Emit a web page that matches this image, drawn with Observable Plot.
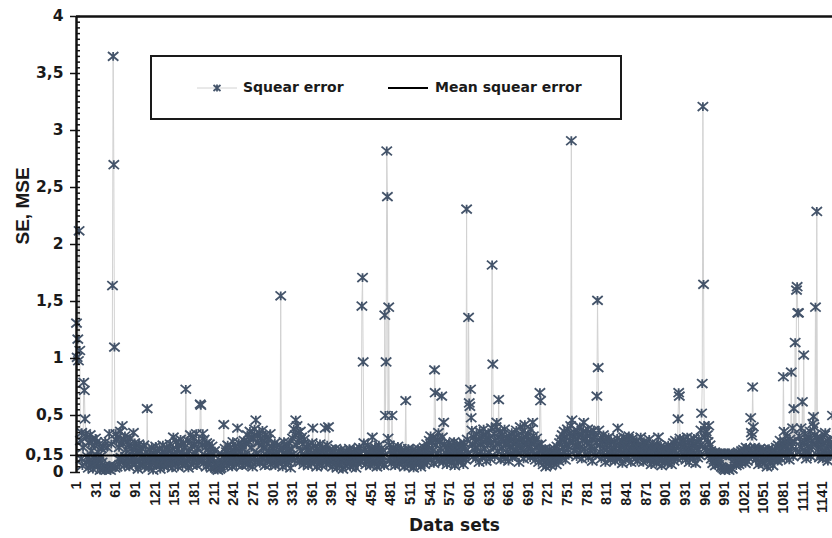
<!DOCTYPE html>
<html><head><meta charset="utf-8">
<script src="https://cdn.jsdelivr.net/npm/d3@7"></script>
<script src="https://cdn.jsdelivr.net/npm/@observablehq/plot@0.6"></script>
<style>
body{margin:0;background:#fff;}
#wrap{position:relative;width:832px;height:538px;overflow:hidden;background:#fff;}
#legend{position:absolute;left:150px;top:55px;width:468px;height:61px;border:2px solid #1a1a1a;background:#fff;font:bold 14px "DejaVu Sans";color:#1a1a1a;}
#legend span{position:absolute;top:22px;white-space:nowrap;}
</style></head><body><div id="wrap"></div>
<script>
// Squared error per data set (index 1..1156)
const se1=[1.31,1.01,1.17,.98,2.12,1.07,.28,.12,.35,.06,
.22,.79,.72,.47,.34,.09,.31,.14,.04,.26,
.11,.33,.07,.19,.29,.03,.13,.24,.08,.30,
.12,.27,.05,.18,.10,.25,.02,.14,.21,.09,
.04,.23,.03,.06,.27,.02,.05,.22,.04,.03,
.34,.06,.02,.25,.05,1.64,3.65,2.70,1.10,.04,
.34,.28,.05,.31,.12,.22,.07,.36,.13,.26,
.41,.10,.29,.06,.32,.14,.20,.08,.27,.11,
.24,.05,.30,.13,.21,.09,.18,.35,.12,.26,
.07,.22,.11,.17,.03,.25,.10,.19,.06,.14];
const se2=[.21,.08,.13,.24,.05,.11,.18,.09,.56,.12,
.04,.20,.10,.15,.07,.22,.13,.02,.17,.09,
.12,.23,.06,.14,.19,.08,.11,.21,.03,.13,
.16,.07,.24,.10,.05,.18,.12,.09,.22,.14,
.06,.19,.11,.25,.08,.13,.04,.21,.31,.10,
.15,.07,.27,.12,.20,.05,.24,.09,.14,.29,
.11,.18,.06,.26,.13,.22,.08,.73,.16,.10,
.28,.04,.19,.12,.33,.07,.23,.14,.30,.09,
.25,.11,.17,.34,.06,.21,.13,.27,.10,.60,
.59,.12,.24,.34,.08,.29,.15,.22,.05,.26];
const se3=[.13,.20,.07,.25,.11,.18,.04,.23,.12,.16,
.09,.19,.04,.07,.03,.06,.02,.05,.08,.03,
.06,.04,.16,.07,.14,.42,.09,.21,.12,.18,
.06,.24,.11,.15,.08,.22,.13,.19,.05,.27,
.10,.17,.14,.23,.07,.20,.39,.12,.26,.09,
.18,.13,.24,.06,.21,.11,.28,.15,.08,.25,
.12,.33,.07,.27,.14,.36,.10,.22,.31,.05,
.29,.13,.38,.09,.46,.17,.32,.11,.26,.35,
.08,.30,.14,.24,.37,.12,.21,.28,.06,.33,
.15,.25,.10,.29,.19,.13,.34,.07,.23,.16];
const se4=[.09,.21,.14,.26,.06,.18,.11,.24,.13,.08,
.20,.12,1.55,.10,.22,.05,.17,.27,.11,.15,
.07,.23,.13,.19,.09,.26,.14,.04,.21,.12,
.30,.16,.38,.11,.33,.46,.24,.41,.13,.35,
.28,.09,.36,.19,.31,.12,.25,.07,.29,.15,
.10,.22,.14,.18,.06,.24,.11,.20,.13,.08,
.26,.39,.12,.17,.09,.23,.14,.05,.21,.11,
.16,.08,.25,.13,.19,.06,.22,.10,.15,.12,
.39,.18,.07,.24,.11,.40,.14,.20,.09,.17,
.13,.05,.19,.10,.16,.08,.21,.12,.04,.15];
const se5=[.11,.18,.07,.14,.20,.09,.13,.03,.17,.10,
.15,.06,.19,.12,.08,.16,.11,.21,.05,.13,
.18,.09,.14,.07,.20,.12,.16,.04,.11,.19,
.08,.15,.22,.10,.17,.13,1.46,1.71,.97,.26,
.12,.20,.07,.16,.11,.24,.09,.18,.14,.06,
.21,.13,.31,.10,.17,.08,.22,.12,.15,.05,
.19,.11,.24,.07,.16,.13,.21,.09,.18,.14,
.06,1.38,.50,.97,2.82,2.42,.30,1.45,.24,.12,
.19,.08,.50,.15,.22,.11,.17,.06,.20,.13,
.10,.23,.14,.07,.18,.12,.21,.09,.16,.11];
const se6=[.14,.05,.19,.63,.12,.17,.08,.21,.11,.15,
.06,.18,.13,.09,.20,.04,.16,.12,.19,.07,
.14,.11,.21,.08,.17,.13,.05,.19,.10,.15,
.12,.22,.07,.18,.14,.25,.09,.20,.13,.28,
.16,.32,.11,.26,.19,.30,.08,.90,.70,.24,
.13,.29,.17,.35,.10,.27,.21,.14,.67,.31,
.09,.44,.25,.12,.22,.17,.07,.20,.14,.26,
.11,.18,.23,.08,.15,.21,.13,.27,.06,.19,
.12,.24,.16,.09,.20,.14,.25,.10,.18,.22,
.13,.07,.26,.15,.21,.11,2.31,.29,.17,1.36];
const se7=[.61,.58,.73,.48,.37,.24,.14,.31,.20,.27,
.12,.34,.22,.16,.29,.09,.36,.25,.18,.32,
.13,.27,.38,.21,.15,.33,.10,.28,.24,.35,
.17,.30,.12,.26,.39,1.82,.95,.22,.34,.14,
.28,.40,.44,.19,.31,.64,.25,.36,.11,.29,
.21,.33,.15,.27,.38,.12,.24,.30,.18,.26,
.10,.32,.22,.16,.29,.35,.13,.25,.20,.31,
.14,.27,.37,.19,.23,.33,.09,.28,.40,.17,
.30,.22,.36,.12,.26,.42,.18,.31,.24,.15,
.34,.21,.28,.13,.38,.25,.19,.44,.32,.16];
const se8=[.27,.11,.22,.30,.15,.24,.09,.19,.70,.63,
.25,.13,.20,.07,.17,.12,.21,.05,.16,.10,
.19,.08,.14,.20,.11,.06,.18,.13,.15,.09,
.21,.12,.17,.07,.23,.14,.19,.10,.26,.16,
.29,.13,.33,.22,.18,.36,.27,.11,.31,.24,
.38,.20,.15,.34,.28,.41,2.91,.46,.26,.32,
.19,.35,.23,.29,.14,.37,.25,.31,.17,.40,
.22,.33,.12,.28,.36,.44,.21,.30,.16,.34,
.27,.38,.13,.25,.32,.19,.35,.23,.10,.29,
.37,.20,.31,.15,.26,.67,1.51,.92,.37,.24];
const se9=[.18,.30,.12,.27,.21,.33,.15,.25,.09,.29,
.20,.26,.14,.31,.17,.24,.11,.28,.19,.13,
.22,.16,.27,.10,.24,.18,.30,.39,.14,.21,
.12,.25,.17,.28,.08,.22,.31,.15,.26,.11,
.19,.29,.13,.24,.32,.16,.21,.09,.27,.18,
.30,.14,.23,.26,.12,.19,.28,.10,.22,.25,
.15,.20,.31,.13,.24,.17,.09,.27,.21,.14,
.26,.18,.11,.23,.16,.29,.12,.20,.07,.22,
.15,.24,.10,.19,.13,.21,.08,.25,.17,.31,
.12,.20,.14,.23,.06,.18,.11,.22,.16,.09];
const se10=[.21,.13,.19,.08,.24,.15,.11,.20,.17,.07,
.22,.14,.26,.10,.19,.28,.16,.23,.12,.47,
.70,.67,.30,.25,.18,.27,.13,.22,.29,.15,
.24,.11,.20,.31,.17,.26,.09,.21,.14,.28,
.19,.23,.12,.30,.16,.25,.08,.22,.27,.13,
.20,.29,.15,.24,.37,.52,.78,3.21,1.65,.41,
.31,.22,.36,.18,.33,.27,.41,.15,.24,.19,
.12,.17,.08,.16,.11,.18,.06,.14,.10,.17,
.13,.07,.16,.11,.17,.05,.15,.04,.16,.03,
.17,.02,.15,.04,.16,.03,.17,.02,.15,.16];
const se11=[.04,.17,.03,.15,.16,.08,.12,.15,.06,.14,
.10,.18,.07,.13,.16,.09,.19,.11,.14,.20,
.12,.17,.08,.22,.15,.10,.19,.13,.21,.16,
.48,.35,.32,.75,.40,.14,.22,.18,.11,.20,
.13,.19,.07,.17,.21,.10,.15,.18,.09,.20,
.14,.08,.19,.12,.16,.05,.18,.11,.21,.13,
.09,.17,.14,.20,.06,.15,.11,.19,.13,.22,
.16,.10,.24,.14,.19,.28,.12,.21,.17,.26,
.84,.36,.15,.27,.22,.13,.32,.19,.25,.11,
.29,.18,.88,.23,.39,.14,.56,.27,1.14,.20];
const se12=[1.60,1.63,1.40,1.40,.32,.18,.27,.39,.22,.62,
.15,1.03,.26,.34,.19,.12,.29,.23,.16,.31,
.21,.36,.14,.28,.25,.43,.49,.40,.33,1.45,
.24,2.29,.31,.18,.27,.13,.22,.30,.16,.25,
.12,.26,.19,.33,.35,.15,.21,.28,.10,.23,
.17,.29,.14,.24,.20,.50];

const mse = 0.15;                       // mean squared error
const seriesNames = ["Squear error", "Mean squear error"];
const yTicks = [0, 0.15, 0.5, 1, 1.5, 2, 2.5, 3, 3.5, 4];
const xTicks = [1,31,61,91,121,151,181,211,241,271,301,331,361,391,421,451,481,511,541,571,601,631,661,691,721,751,781,811,841,871,901,931,961,991,1021,1051,1081,1111,1141];
const xLabel = "Data sets", yLabel = "SE, MSE";

const seAll = [].concat(se1,se2,se3,se4,se5,se6,se7,se8,se9,se10,se11,se12);
const data = seAll.map((v, k) => ({set: k + 1, se: v}));
const minorTicks = d3.range(0, 81).map(k => +(k * 0.05).toFixed(2));
const comma = d => String(d).replace(".", ",");

const star = {
  draw(ctx) {
    const rx = 5.2, ry = 4.4;
    ctx.moveTo(-rx, -ry); ctx.lineTo(rx, ry);
    ctx.moveTo(-rx, ry); ctx.lineTo(rx, -ry);
    ctx.moveTo(0, -ry); ctx.lineTo(0, ry);
  }
};

const chart = Plot.plot({
  width: 832, height: 538,
  marginLeft: 76, marginRight: 0, marginTop: 16, marginBottom: 66,
  x: {domain: [1, 1156]},
  y: {domain: [0, 4]},
  style: {background: "#fff", overflow: "visible"},
  marks: [
    Plot.line(data, {x: "set", y: "se", stroke: "#d2d2d2", strokeWidth: 1}),
    Plot.dot(data, {x: "set", y: "se", symbol: star, stroke: "#44546a", strokeWidth: 1.8, fill: "none"}),
    Plot.ruleY([mse], {stroke: "#000", strokeWidth: 2}),
    Plot.ruleY([4], {stroke: "#111", strokeWidth: 2.5}),
    Plot.ruleX([1], {stroke: "#111", strokeWidth: 2.5}),
    Plot.axisY(minorTicks, {tickSize: -4, tickFormat: () => "", label: null, stroke: "#111", strokeWidth: 1.5}),
    Plot.axisY(yTicks, {tickSize: 6, tickPadding: 7, tickFormat: comma, label: null,
      fontSize: 15.5, fontWeight: "bold", fontFamily: "DejaVu Sans", fill: "#1a1a1a", stroke: "#111", strokeWidth: 1.5}),
    Plot.axisX(xTicks, {tickRotate: -90, tickSize: 0, tickPadding: 9, tickFormat: d => String(d), label: null,
      fontSize: 14.5, fontWeight: "bold", fontFamily: "Liberation Sans", fill: "#1a1a1a"}),
    Plot.text([xLabel], {frameAnchor: "bottom", dy: 58, fontSize: 17, fontWeight: "bold", fontFamily: "DejaVu Sans", fill: "#1a1a1a"}),
    Plot.text([yLabel], {frameAnchor: "left", dx: -54, rotate: -90, fontSize: 19, fontWeight: "bold", fontFamily: "Liberation Sans", fill: "#1a1a1a"})
  ]
});

const wrap = document.getElementById("wrap");
wrap.appendChild(chart);

const legend = document.createElement("div");
legend.id = "legend";
legend.innerHTML = `<svg width="468" height="61" style="position:absolute;left:0;top:0">
  <line x1="45" x2="85" y1="31" y2="31" stroke="#d2d2d2" stroke-width="1"/>
  <path d="M61.5,28 L68.5,34 M61.5,34 L68.5,28 M65,27.5 L65,34.5" stroke="#44546a" stroke-width="1.8" fill="none"/>
  <line x1="236" x2="276" y1="31" y2="31" stroke="#000" stroke-width="2"/>
</svg>
<span style="left:91px">${seriesNames[0]}</span>
<span style="left:283px">${seriesNames[1]}</span>`;
wrap.appendChild(legend);
</script>
</body></html>
